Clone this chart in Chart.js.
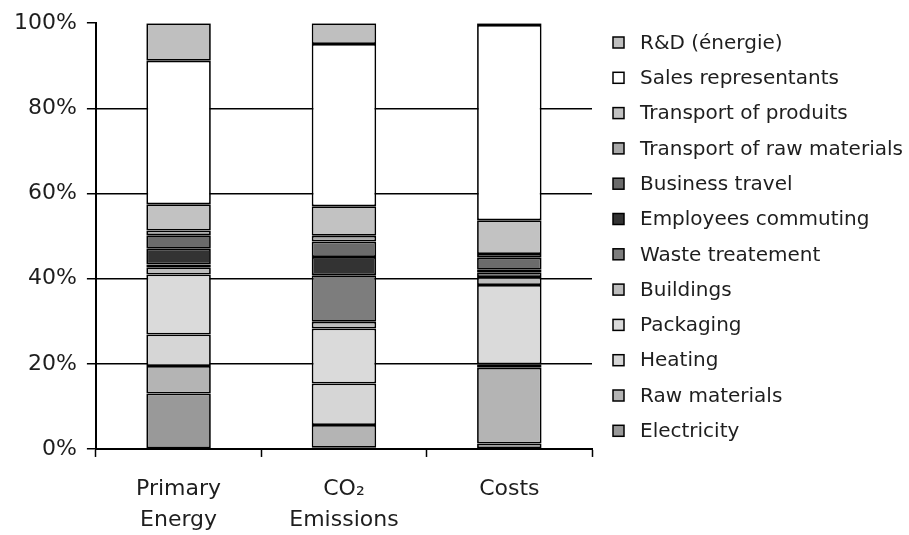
<!DOCTYPE html>
<html lang="en">
<head>
  <meta charset="UTF-8" />
  <title>Stacked shares</title>
  <script src="https://cdn.jsdelivr.net/npm/chart.js"></script>
  <style>
    html, body { margin: 0; padding: 0; background: #fff; }
    #wrap { width: 909px; height: 535px; }
  </style>
</head>
<body>
  <div id="wrap"><canvas id="chart" width="909" height="535"></canvas></div>

  <script>
    const categories = [['Primary', 'Energy'], ['CO\u2082', 'Emissions'], 'Costs'];
    const yTicks = [0, 20, 40, 60, 80, 100];

    // shares in %, bottom of the stack first
    const electricity        = [13.0,  0.3,  1.3];
    const rawMaterials       = [ 6.5,  5.3, 17.8];
    const heating            = [ 7.4,  9.8,  0.8];
    const packaging          = [14.1, 12.9, 18.6];
    const buildings          = [ 1.7,  1.6,  1.9];
    const wasteTreatement    = [ 0.6, 10.9,  1.1];
    const employeesCommuting = [ 3.7,  4.3,  0.6];
    const businessTravel     = [ 3.2,  3.6,  2.8];
    const transportRaw       = [ 1.1,  1.4,  0.9];
    const transportProduits  = [ 6.2,  6.9,  7.9];
    const salesReps          = [33.7, 38.1, 45.9];
    const rdEnergie          = [ 8.8,  4.9,  0.4];

    const series = [
      ['Electricity', electricity, '#999999'],
      ['Raw materials', rawMaterials, '#b4b4b4'],
      ['Heating', heating, '#d6d6d6'],
      ['Packaging', packaging, '#dadada'],
      ['Buildings', buildings, '#bdbdbd'],
      ['Waste treatement', wasteTreatement, '#7d7d7d'],
      ['Employees commuting', employeesCommuting, '#333333'],
      ['Business travel', businessTravel, '#6b6b6b'],
      ['Transport of raw materials', transportRaw, '#a8a8a8'],
      ['Transport of produits', transportProduits, '#c2c2c2'],
      ['Sales representants', salesReps, '#ffffff'],
      ['R&D (énergie)', rdEnergie, '#bfbfbf']
    ];

    const txt = '#1e1e1e';
    const fontFamily = '"DejaVu Sans", Verdana, sans-serif';
    Chart.defaults.font.family = fontFamily;
    Chart.defaults.color = txt;

    // built-in legend is capped at a quarter of the width, so draw the key here
    const sideLegend = {
      id: 'sideLegend',
      afterDraw(chart) {
        const ctx = chart.ctx;
        const items = chart.data.datasets.slice().reverse();
        ctx.save();
        ctx.font = '20px ' + fontFamily;
        ctx.textBaseline = 'middle';
        ctx.textAlign = 'left';
        items.forEach((ds, i) => {
          const y = 42.5 + i * 35.3;
          ctx.fillStyle = ds.backgroundColor;
          ctx.fillRect(613, y - 5.5, 11, 11);
          ctx.strokeStyle = '#000';
          ctx.lineWidth = 1.5;
          ctx.strokeRect(613, y - 5.5, 11, 11);
          ctx.fillStyle = txt;
          ctx.fillText(ds.label, 640, y + 1);
        });
        ctx.restore();
      }
    };

    new Chart(document.getElementById('chart'), {
      type: 'bar',
      data: {
        labels: categories,
        datasets: series.map(([label, data, color]) => ({
          label: label,
          data: data,
          backgroundColor: color,
          borderColor: '#000',
          borderWidth: 1.75,
          borderSkipped: false,
          categoryPercentage: 1,
          barPercentage: 0.39
        }))
      },
      options: {
        responsive: false,
        animation: false,
        layout: { padding: { top: 9, left: 4, right: 317, bottom: -17 } },
        plugins: {
          tooltip: { enabled: false },
          legend: { display: false }
        },
        scales: {
          x: {
            stacked: true,
            grid: {
              offset: true,
              drawOnChartArea: false,
              tickLength: 8,
              tickColor: '#000',
              tickWidth: 1.5
            },
            border: { color: '#000', width: 2 },
            ticks: { padding: 16.5, color: txt, font: { size: 22, lineHeight: 1.41 }, maxRotation: 0 }
          },
          y: {
            stacked: true,
            min: 0,
            max: 100,
            afterBuildTicks: axis => { axis.ticks = yTicks.map(v => ({ value: v })); },
            grid: {
              color: ctx => ctx.tick && ctx.tick.value === 100 ? 'rgba(0,0,0,0)' : '#000',
              lineWidth: 1.5,
              tickLength: 9,
              tickColor: '#000',
              tickWidth: 1.5
            },
            border: { color: '#000', width: 2 },
            ticks: { padding: 10, color: txt, font: { size: 22 }, callback: v => v + '%' }
          }
        }
      },
      plugins: [sideLegend]
    });
  </script>
</body>
</html>
